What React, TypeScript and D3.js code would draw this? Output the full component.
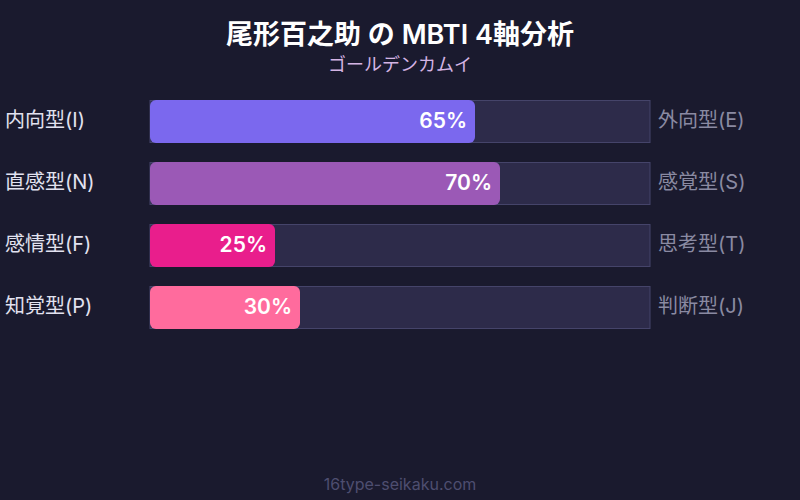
import React from "react";
import * as d3 from "d3";

const leftLabels = ["内向型(I)", "直感型(N)", "感情型(F)", "知覚型(P)"];
const rightLabels = ["外向型(E)", "感覚型(S)", "思考型(T)", "判断型(J)"];
const values = [65, 70, 25, 30];
const colors = ["#7b68ee", "#9b59b6", "#e91e8c", "#ff6b9d"];

const W = 800;
const H = 500;
const FONT = "Inter, 'Noto Sans CJK JP', sans-serif";

export default function App() {
  const x = d3.scaleLinear().domain([0, 100]).range([150, 650]);
  const bh = 42;
  return (
    <div style={{ position: "fixed", left: 0, top: 0 }}>
      <svg width={W} height={H} style={{ display: "block", background: "#1a1a2e" }}>
        <rect x={0} y={0} width={W} height={H} fill="#1a1a2e" />
        <text x={400} y={44} textAnchor="middle" fill="#ffffff" fontSize={27} fontWeight={600} fontFamily={FONT}>
          尾形百之助 の MBTI 4軸分析
        </text>
        <text x={400} y={71} textAnchor="middle" fill="#d4b4e4" fontSize={18} fontFamily={FONT}>
          ゴールデンカムイ
        </text>
        {values.map((v, i) => {
          const yy = 100 + i * 62;
          return (
            <g key={i}>
              <rect x={x(0)} y={yy + 0.5} width={x(100) - x(0)} height={bh} fill="#2d2b4a" stroke="#45446a" strokeWidth={1} />
              <rect x={x(0)} y={yy} width={x(v) - x(0)} height={bh + 1} rx={6} fill={colors[i]} />
              <text x={x(v) - 8} y={yy + bh / 2 + 7} textAnchor="end" fill="#ffffff" fontSize={21} fontWeight={600} fontFamily={FONT}>
                {v}%
              </text>
              <text x={5} y={yy + bh / 2 + 6} fill="#e2e2f0" fontSize={20} fontWeight={400} fontFamily={FONT}>
                {leftLabels[i]}
              </text>
              <text x={658} y={yy + bh / 2 + 6} fill="#8a8aa2" fontSize={20} fontWeight={400} fontFamily={FONT}>
                {rightLabels[i]}
              </text>
            </g>
          );
        })}
        <text x={400} y={490} textAnchor="middle" fill="#4e4e70" fontSize={16} fontFamily={FONT}>
          16type-seikaku.com
        </text>
      </svg>
    </div>
  );
}
